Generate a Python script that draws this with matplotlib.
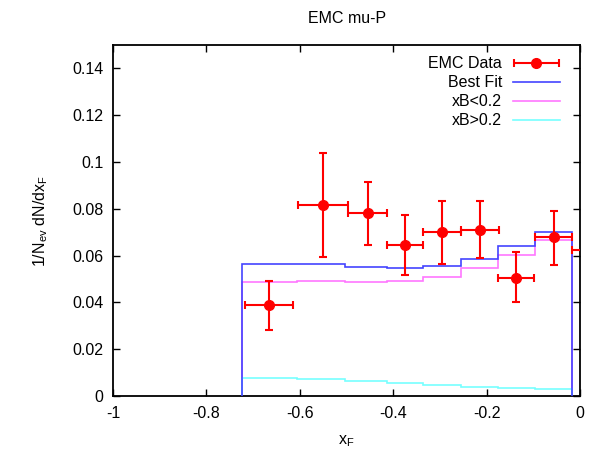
import matplotlib
matplotlib.use('Agg')
import matplotlib.pyplot as plt
from matplotlib.legend_handler import HandlerErrorbar
import numpy as np

# histogram bins (x_F) and fit components
bin_edges = [-0.724, -0.607, -0.503, -0.414, -0.336, -0.255, -0.175, -0.096, -0.017]
best_fit = [0.0566, 0.0564, 0.0552, 0.0547, 0.0555, 0.0585, 0.0639, 0.0699]
xb_low = [0.0488, 0.0491, 0.0488, 0.0491, 0.0508, 0.0545, 0.0602, 0.0668]
xb_high = [0.0077, 0.0073, 0.0064, 0.0056, 0.0049, 0.0040, 0.0034, 0.0031]

# EMC data points
data_x = [-0.666, -0.551, -0.455, -0.376, -0.296, -0.214, -0.137, -0.057, 0.020]
data_xlo = [-0.717, -0.603, -0.496, -0.414, -0.337, -0.255, -0.176, -0.096, -0.017]
data_xhi = [-0.614, -0.498, -0.414, -0.337, -0.255, -0.173, -0.098, -0.017, 0.060]
data_y = [0.0387, 0.0815, 0.0782, 0.0646, 0.0699, 0.0711, 0.0506, 0.0678, 0.0622]
data_ylo = [0.0283, 0.0594, 0.0646, 0.0518, 0.0565, 0.0588, 0.0401, 0.0558, 0.0500]
data_yhi = [0.0492, 0.1039, 0.0915, 0.0775, 0.0832, 0.0833, 0.0614, 0.0792, 0.0750]

xticks = [-1, -0.8, -0.6, -0.4, -0.2, 0]
xticklabels = ['-1', '-0.8', '-0.6', '-0.4', '-0.2', '0']
yticks = [0, 0.02, 0.04, 0.06, 0.08, 0.1, 0.12, 0.14]
yticklabels = ['0', '0.02', '0.04', '0.06', '0.08', '0.1', '0.12', '0.14']

plt.rcParams['font.family'] = ['Liberation Sans', 'DejaVu Sans']
plt.rcParams['font.size'] = 11.5

fig = plt.figure(figsize=(5.95, 4.58), dpi=100)
ax = fig.add_axes([0.190, 0.1354, 0.785, 0.7663])

ax.stairs(best_fit, bin_edges, baseline=0, color='#4444ff', lw=1.2, label='Best Fit', zorder=3)
ax.stairs(xb_low, bin_edges, baseline=0, color='#ff77ff', lw=1.2, label='xB<0.2', zorder=2)
ax.stairs(xb_high, bin_edges, baseline=0, color='#77ffff', lw=1.2, label='xB>0.2', zorder=2)

x = np.array(data_x)
y = np.array(data_y)
xerr = [x - np.array(data_xlo), np.array(data_xhi) - x]
yerr = [y - np.array(data_ylo), np.array(data_yhi) - y]
ax.errorbar(x, y, xerr=xerr, yerr=yerr, fmt='o', color='#ff0000', ms=7,
            elinewidth=1.5, capsize=3, capthick=1.5, zorder=5)

# legend proxy: horizontal bar with caps and a dot, like gnuplot's sample
proxy = ax.errorbar([np.nan], [np.nan], xerr=[0.1], fmt='o', color='#ff0000', ms=7,
                    elinewidth=1.5, capsize=3, capthick=1.5)

handles, labels = ax.get_legend_handles_labels()
order = [labels.index(l) for l in ['Best Fit', 'xB<0.2', 'xB>0.2']]
leg = ax.legend([proxy] + [handles[i] for i in order],
                ['EMC Data'] + [labels[i] for i in order],
                loc='upper right', frameon=False, markerfirst=False,
                handlelength=2.9, handletextpad=0.7, labelspacing=0.25,
                borderaxespad=0.3, bbox_to_anchor=(0.98, 1.0),
                handler_map={type(proxy): HandlerErrorbar(xerr_size=1.4)})

ax.set_xlim(-1, 0)
ax.set_ylim(0, 0.15)
ax.set_xticks(xticks)
ax.set_xticklabels(xticklabels)
ax.set_yticks(yticks)
ax.set_yticklabels(yticklabels)
ax.tick_params(direction='in', top=True, right=True, length=5, width=1, pad=7)
for s in ax.spines.values():
    s.set_linewidth(1.3)

ax.set_xlabel('x$_\\mathregular{F}$', labelpad=9)
ax.set_ylabel('1/N$_\\mathregular{ev}$ dN/dx$_\\mathregular{F}$', labelpad=16)
ax.set_title('EMC mu-P', fontsize=11.5, pad=16)

fig.savefig('out.png', dpi=100)
